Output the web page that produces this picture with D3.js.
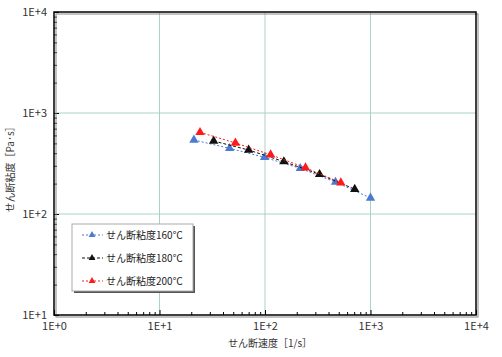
<!DOCTYPE html>
<html><head><meta charset="utf-8">
<script src="https://cdn.jsdelivr.net/npm/d3@7"></script>
<style>body{margin:0;background:#fff;} text{font-family:"Noto Sans CJK JP","Noto Sans",sans-serif;}</style>
</head><body>
<svg id="c" width="502" height="357"></svg>
<script>
const seriesNames = ["せん断粘度160℃","せん断粘度180℃","せん断粘度200℃"];
const seriesColors = ["#4a7bd0","#111111","#ff1a1a"];
const seriesDash = ["2,2","3,2","2,2"];
const x160 = [21.2, 46.2, 99, 216, 466, 1000];
const y160 = [540, 447, 364, 283, 207, 144];
const x180 = [32.6, 70, 151, 329, 709];
const y180 = [528, 430, 330, 247, 176];
const x200 = [24.2, 52.4, 113, 242, 523];
const y200 = [644, 505, 386, 287, 204];
const xTicks = [1,10,100,1000,10000];
const yTicks = [10,100,1000,10000];
const xTickLabels = ["1E+0","1E+1","1E+2","1E+3","1E+4"];
const yTickLabels = ["1E+1","1E+2","1E+3","1E+4"];
const xTitle = "せん断速度［1/s］";
const yTitle = "せん断粘度［Pa･s］";

const svg = d3.select("#c");
const L=54, R=476, T=12, B=315;
const x = d3.scaleLog().domain([1,10000]).range([L,R]);
const y = d3.scaleLog().domain([10,10000]).range([B,T]);

// grid
svg.append("g").selectAll("line").data(xTicks.slice(1,-1)).join("line")
  .attr("x1",d=>x(d)).attr("x2",d=>x(d)).attr("y1",T).attr("y2",B)
  .attr("stroke","#a9d3c3").attr("stroke-width",1);
svg.append("g").selectAll("line").data(yTicks.slice(1,-1)).join("line")
  .attr("y1",d=>y(d)).attr("y2",d=>y(d)).attr("x1",L).attr("x2",R)
  .attr("stroke","#a9d3c3").attr("stroke-width",1);

// axes with inward ticks
const minorX = [];
for (let e=0;e<4;e++) for (let m=2;m<=9;m++) minorX.push(m*Math.pow(10,e));
const minorY = [];
for (let e=1;e<4;e++) for (let m=2;m<=9;m++) minorY.push(m*Math.pow(10,e));

const xAxis = d3.axisBottom(x).tickValues(xTicks).tickFormat((d,i)=>xTickLabels[i]).tickSizeInner(-5).tickSizeOuter(0).tickPadding(7);
const gx = svg.append("g").attr("transform",`translate(0,${B})`).call(xAxis);
gx.select(".domain").remove();
gx.selectAll("text").attr("font-size",11).attr("fill","#333");
gx.selectAll("line").attr("stroke","#000");
svg.append("g").attr("transform",`translate(0,${B})`).call(d3.axisBottom(x).tickValues(minorX).tickFormat("").tickSizeInner(-3).tickSizeOuter(0))
  .call(g=>g.select(".domain").remove()).selectAll("line").attr("stroke","#000");

const yAxis = d3.axisLeft(y).tickValues(yTicks).tickFormat((d,i)=>yTickLabels[i]).tickSizeInner(-5).tickSizeOuter(0).tickPadding(10);
const gy = svg.append("g").attr("transform",`translate(${L},0)`).call(yAxis);
gy.select(".domain").remove();
gy.selectAll("text").attr("font-size",11).attr("fill","#333").attr("dx",3);
gy.selectAll("line").attr("stroke","#000");
svg.append("g").attr("transform",`translate(${L},0)`).call(d3.axisLeft(y).tickValues(minorY).tickFormat("").tickSizeInner(-3).tickSizeOuter(0))
  .call(g=>g.select(".domain").remove()).selectAll("line").attr("stroke","#000");

// frame with shadow
svg.append("rect").attr("x",L+2).attr("y",T+2).attr("width",R-L).attr("height",B-T).attr("fill","none").attr("stroke","#888").attr("stroke-width",1);
svg.append("rect").attr("x",L).attr("y",T).attr("width",R-L).attr("height",B-T).attr("fill","none").attr("stroke","#000").attr("stroke-width",1.5);

// titles
svg.append("text").attr("x",270).attr("y",343).attr("dy","0.35em").attr("text-anchor","middle").attr("font-size",10).attr("fill","#333").text(xTitle);
svg.append("text").attr("transform",`translate(10,167) rotate(-90)`).attr("dy","0.35em").attr("text-anchor","middle").attr("font-size",10).attr("fill","#333").text(yTitle);

// series
const xs=[x160,x180,x200], ys=[y160,y180,y200];
const tri = d3.symbol().type(d3.symbolTriangle).size(38);
const line = d3.line().x(d=>x(d[0])).y(d=>y(d[1]));
xs.forEach((xa,i)=>{
  const pts = xa.map((v,j)=>[v, ys[i][j]]);
  svg.append("path").datum(pts).attr("d",line).attr("fill","none").attr("stroke",seriesColors[i]).attr("stroke-width",1).attr("stroke-dasharray",seriesDash[i]);
  svg.append("g").selectAll("path").data(pts).join("path").attr("d",tri)
    .attr("transform",d=>`translate(${x(d[0])},${y(d[1])})`).attr("fill",seriesColors[i]);
});

// legend
const lg = svg.append("g");
lg.append("rect").attr("x",74).attr("y",226).attr("width",121).attr("height",67).attr("fill","#555");
lg.append("rect").attr("x",72).attr("y",224).attr("width",121).attr("height",67).attr("fill","#fff").attr("stroke","#aaa");
seriesNames.forEach((n,i)=>{
  const yy = 235 + i*23;
  lg.append("line").attr("x1",82).attr("x2",103).attr("y1",yy).attr("y2",yy).attr("stroke",seriesColors[i]).attr("stroke-dasharray",seriesDash[i]);
  lg.append("path").attr("d",d3.symbol().type(d3.symbolTriangle).size(20)).attr("transform",`translate(92,${yy})`).attr("fill",seriesColors[i]);
  lg.append("text").attr("x",106).attr("y",yy).attr("dy","0.35em").attr("font-size",10).attr("fill","#222").text(n);
});
</script>
</body></html>
